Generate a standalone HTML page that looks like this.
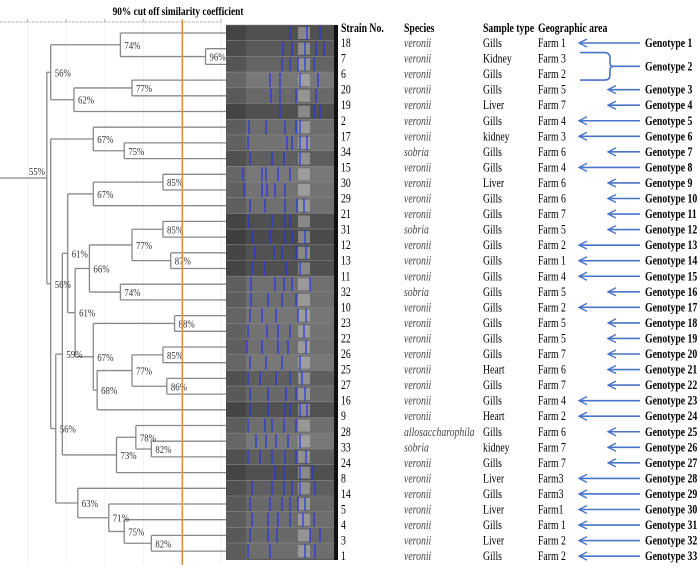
<!DOCTYPE html>
<html><head><meta charset="utf-8"><style>
html,body{margin:0;padding:0;background:#fff;}
svg{display:block;font-family:"Liberation Serif",serif;}
</style></head><body>
<svg id="fig" width="700" height="571" viewBox="0 0 700 571" xmlns="http://www.w3.org/2000/svg">
<defs><marker id="ah" markerWidth="10" markerHeight="10" refX="9" refY="5" orient="auto" markerUnits="userSpaceOnUse"><path d="M1,1 L9,5 L1,9" fill="none" stroke="#4a74c9" stroke-width="1.4"/></marker></defs>
<g id="tree"></g>
<g id="gel"></g>
<g id="table"></g>
</svg>
<script>
const strains=["18","7","6","20","19","2","17","34","15","30","29","21","31","12","13","11","32","10","23","22","26","25","27","16","9","28","33","24","8","14","5","4","3","1"];
const species=["veronii","veronii","veronii","veronii","veronii","veronii","veronii","sobria","veronii","veronii","veronii","veronii","sobria","veronii","veronii","veronii","sobria","veronii","veronii","veronii","veronii","veronii","veronii","veronii","veronii","allosaccharophila","sobria","veronii","veronii","veronii","veronii","veronii","veronii","veronii"];
const samples=["Gills","Kidney","Gills","Gills","Liver","Gills","kidney","Gills","Gills","Liver","Gills","Gills","Gills","Gills","Gills","Gills","Gills","Gills","Gills","Gills","Gills","Heart","Gills","Gills","Heart","Gills","kidney","Gills","Liver","Gills","Liver","Gills","Liver","Gills"];
const farms=["Farm 1","Farm 3","Farm 2","Farm  5","Farm 7","Farm 4","Farm 3","Farm 6","Farm 4","Farm 6","Farm 6","Farm 7","Farm 5","Farm 2","Farm 1","Farm 4","Farm 5","Farm 2","Farm 5","Farm 5","Farm 7","Farm 6","Farm 7","Farm 4","Farm 2","Farm 6","Farm 7","Farm 7","Farm3","Farm3","Farm1","Farm 1","Farm 2","Farm 2"];
const arrowLong=[1,0,0,0,0,1,1,0,1,0,0,0,0,1,1,1,0,1,0,0,0,0,0,1,1,0,0,0,1,1,1,1,1,1];
const ticks=[50,60,70,80,90,100];
const cutoff=90;
const NS="http://www.w3.org/2000/svg";
function el(t,a,p){const e=document.createElementNS(NS,t);for(const k in a)e.setAttribute(k,a[k]);p.appendChild(e);return e;}
const xs=s=>221-(100-s)*3.87;
const leafY=i=>33+i*15.7;
const rowY=i=>43+i*15.55;
const LEAFX=226;
const n96=[96,[1,2]],n74=[74,[0,n96]],n77a=[77,[3,4]],n62=[62,[n77a,5]],n56a=[56,[n74,n62]];
const n75=[75,[7,8]],n67a=[67,[6,n75]];
const n85a=[85,[9,10]],n67b=[67,[n85a,11]];
const n85b=[85,[12,13]],n87=[87,[14,15]],n77b=[77,[n85b,n87]],n74b=[74,[16,17]],n66=[66,[n77b,n74b]];
const n88=[88,[18,19]],n85c=[85,[20,21]],n86=[86,[22,23]],n77c=[77,[n85c,n86]],n68=[68,[n77c,24]],n67c=[67,[n88,n68]];
const n61b=[62.3,[n66,n67c],"61%"],n61a=[60.4,[n67b,n61b],"61%"];
const n82a=[82,[26,27]],n78=[78,[25,n82a]],n73=[73,[n78,28]];
const n59=[59,[n61a,n73]];
const n82b=[82,[32,33]],n75b=[75,[31,n82b]],n71=[71,[30,n75b]],n63=[63,[29,n71]];
const n56c=[57.3,[n59,n63],"56%"],n56b=[56,[n67a,n56c]];
const root=[55,[n56a,n56b],""];
const T=document.getElementById('tree');
for(const t of ticks){const g=el('line',{x1:xs(t),x2:xs(t),y1:22,y2:565,stroke:'#f2f2f2','stroke-width':1},T);
const tk=el('line',{x1:xs(t),x2:xs(t),y1:19,y2:22,stroke:'#aaa','stroke-width':1},T);}
const rl=el('line',{x1:0,x2:222,y1:22,y2:22,stroke:'#bbb','stroke-width':1,'stroke-dasharray':'3,1'},T);
const tt=el('text',{transform:'translate(178,15) scale(0.78,1)','font-size':12,'font-weight':'bold','text-anchor':'middle'},T);tt.textContent='90% cut off similarity coefficient';

function draw(n){
  if(typeof n==='number') return {x:LEAFX,y:leafY(n)};
  const x=xs(n[0]);const ch=n[1].map(draw);
  for(const c of ch){const h=el('line',{x1:x,x2:c.x,y1:c.y,y2:c.y,stroke:'#888','stroke-width':1.3},T);}
  const y0=Math.min(...ch.map(c=>c.y)),y1=Math.max(...ch.map(c=>c.y));
  const v=el('line',{x1:x,x2:x,y1:y0,y2:y1,stroke:'#888','stroke-width':1.3},T);
  const my=(y0+y1)/2;
  const lt=n[2]!==undefined?n[2]:(Math.round(n[0])+'%');
  if(lt){const lb=el('text',{transform:`translate(${x+4},${my+4}) scale(0.8,1)`,'font-size':11,fill:'#333'},T);lb.textContent=lt;
  }
  return {x:x,y:my};
}
const r=draw(root);
const rh=el('line',{x1:0,x2:r.x,y1:r.y,y2:r.y,stroke:'#888','stroke-width':1.3},T);
const rlb=el('text',{transform:`translate(${r.x-18},${r.y-3}) scale(0.8,1)`,'font-size':11,fill:'#333'},T);rlb.textContent='55%';

const G=document.getElementById('gel');
const gr=el('rect',{x:226,y:25,width:112,height:535,fill:'#5a5a5a'},G);
const shades=[80,90,100,120,105,80,110,115,95,120,115,112,80,75,82,80,112,110,118,115,112,120,95,105,82,110,120,95,80,95,105,110,105,110];
const bands=[[290,307,320],[283,292,305,316,324],[282,290,298,305,314],[270,280,300,318],[271,280,296,316],[280,314,320],[249,266,285,296,300],[248,287,292,300,307],[250,272,284,300],[243,262,266,278,290],[244,262,267,275,285],[250,265,285,297,304],[249,272,285,290],[252,270,285,292,305],[255,274,282,296,306],[252,265,286,300],[251,275,284,292,310],[251,268,282,296],[250,262,276,298,306],[248,267,278,290,304],[247,262,278,288,306],[250,266,282,300],[248,260,276,290,302],[250,268,286,296,305],[250,268,285,290,300,307],[248,265,272,284,296],[256,266,276,288,300],[248,260,272,285,296,306],[275,284,300,313],[252,272,284,292,300,315],[250,270,282,290,298,305],[252,268,278,290,303,314],[250,268,277,310,320],[248,270,305,315]];
for(let i=0;i<34;i++){const s=shades[i];
  const rw=el('rect',{x:226,y:25+i*15.7,width:108,height:15.7,fill:`rgb(${s},${s},${s})`},G);
  const dk=el('rect',{x:226,y:25+i*15.7,width:20,height:15.7,fill:'#000',opacity:0.15},G);
  const sep=el('line',{x1:226,x2:334,y1:25+i*15.7,y2:25+i*15.7,stroke:'#888','stroke-width':0.6},G);
  const hb=el('rect',{x:298,y:27+i*15.7,width:12,height:12,fill:'#ccc',opacity:0.45},G);
  for(const b of bands[i]){const bl=el('line',{x1:b,x2:b,y1:26+i*15.7,y2:40+i*15.7,stroke:'#2233ee','stroke-width':1.2},G);}
}
const bs=el('rect',{x:334,y:25,width:4,height:535,fill:'#111'},G);
const cl=el('line',{x1:xs(cutoff),x2:xs(cutoff),y1:20,y2:565,stroke:'#e8883a','stroke-width':1.5},T);
const TB=document.getElementById('table');
function txt(x,y,s,o){const t=el('text',Object.assign({transform:`translate(${x},${y}) scale(0.75,1)`,'font-size':13},o||{}),TB);t.textContent=s;return t;}
const hd=[[341,'Strain No.','strain-header'],[404,'Species','species-header'],[483,'Sample type','sample-type-header'],[538,'Geographic area','geographic-area-header']];
for(const h of hd){const t=txt(h[0],32,h[1],{'font-weight':'bold'});}
for(let i=0;i<34;i++){const y=rowY(i)+4;
  const a=txt(341,y,strains[i]);
  const b=txt(404,y,species[i],{'font-style':'italic',fill:'#444'});
  const c=txt(483,y,samples[i]);
  const d=txt(538,y,farms[i]);
  if(i===1||i===2) continue;
  const g=i===0?1:i;const gy=rowY(i);
  const ar=el('line',{x1:640,y1:gy,x2:arrowLong[i]?579:608,y2:gy,stroke:'#4a74c9','stroke-width':1.6,'marker-end':'url(#ah)'},TB);
  
  const gt=txt(645,y,'Genotype  '+g,{'font-weight':'bold','font-size':13});
}
const y1=rowY(1)-6,y2=rowY(2)+6,ym=(y1+y2)/2;
const br=el('path',{d:`M580,${y1} L604,${y1} Q610,${y1} 610,${y1+5} L610,${ym-3} Q610,${ym} 614,${ym} L640,${ym} M614,${ym} Q610,${ym} 610,${ym+3} L610,${y2-5} Q610,${y2} 604,${y2} L580,${y2}`,fill:'none',stroke:'#4a74c9','stroke-width':1.6},TB);

const g2=txt(645,ym+4,'Genotype  2',{'font-weight':'bold'});
</script>
</body></html>
